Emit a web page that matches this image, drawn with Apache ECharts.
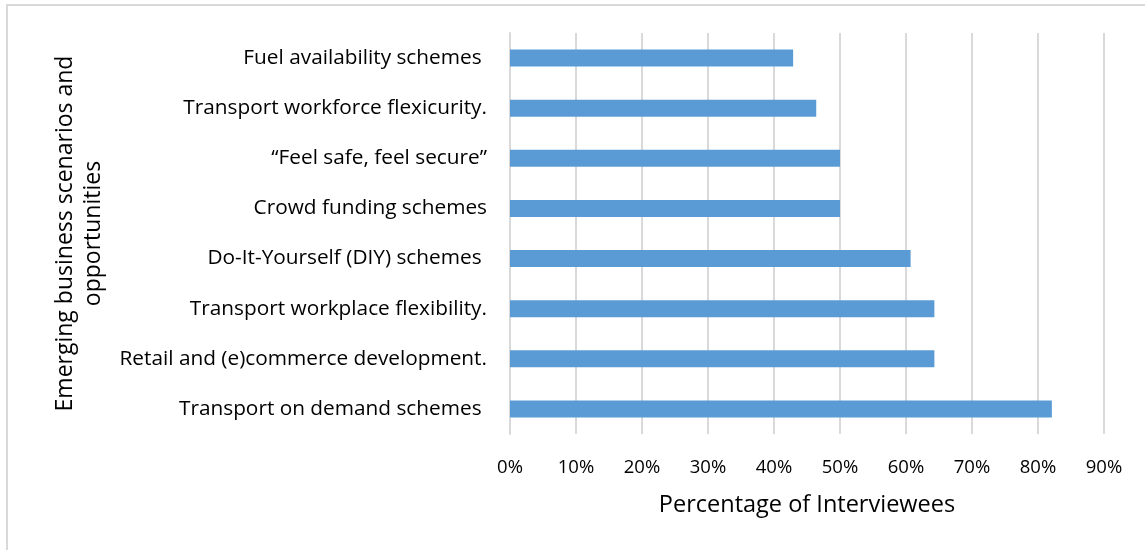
<!DOCTYPE html>
<html>
<head>
<meta charset="utf-8">
<script src="https://cdn.jsdelivr.net/npm/echarts@6/dist/echarts.min.js"></script>
<style>
html,body{margin:0;padding:0;background:#fff;}
#frame{position:absolute;left:6px;top:4px;width:1145px;height:560px;border-left:2px solid #d9d9d9;border-top:2px solid #d9d9d9;box-sizing:border-box;}
#chart{position:absolute;left:0;top:0;width:1145px;height:550px;}
</style>
</head>
<body>
<div id="frame"></div>
<div id="chart"></div>
<script>
// Categories listed bottom to top
const categories = [
  "Transport on demand schemes ",
  "Retail and (e)commerce development.",
  "Transport workplace flexibility.",
  "Do-It-Yourself (DIY) schemes ",
  "Crowd funding schemes",
  "\u201cFeel safe, feel secure\u201d",
  "Transport workforce flexicurity.",
  "Fuel availability schemes "
];
const values = [82.1, 64.3, 64.3, 60.7, 50.0, 50.0, 46.4, 42.9];
const xTicks = [0, 10, 20, 30, 40, 50, 60, 70, 80, 90];
const xAxisTitle = "Percentage of Interviewees";
const yAxisTitle = "Emerging business scenarios and\nopportunities";

const font = "'Open Sans', sans-serif";
const chart = echarts.init(document.getElementById('chart'), null, {renderer: 'canvas'});
chart.setOption({
  animation: false,
  grid: {left: 510, right: 41, top: 33, bottom: 116, containLabel: false},
  xAxis: {
    type: 'value',
    min: xTicks[0],
    max: xTicks[xTicks.length - 1],
    interval: 10,
    axisLine: {show: false},
    axisTick: {show: false},
    axisLabel: {formatter: '{value}%', color: '#000', fontFamily: font, fontSize: 18.5, margin: 24},
    splitLine: {show: true, lineStyle: {color: '#d9d9d9', width: 2}},
    name: xAxisTitle,
    nameLocation: 'middle',
    nameGap: 59,
    nameTextStyle: {color: '#000', fontFamily: font, fontSize: 23.5}
  },
  yAxis: {
    type: 'category',
    data: categories,
    axisLine: {show: true, lineStyle: {color: '#d9d9d9', width: 2}},
    axisTick: {show: false},
    axisLabel: {color: '#000', fontFamily: font, fontSize: 20.8, margin: 23},
    name: yAxisTitle,
    nameLocation: 'middle',
    nameGap: 403,
    nameRotate: 90,
    nameTextStyle: {color: '#000', fontFamily: font, fontSize: 23, lineHeight: 28, align: 'center'}
  },
  series: [{
    type: 'bar',
    data: values,
    barWidth: 17,
    itemStyle: {color: '#5b9bd5'}
  }]
});
</script>
</body>
</html>
